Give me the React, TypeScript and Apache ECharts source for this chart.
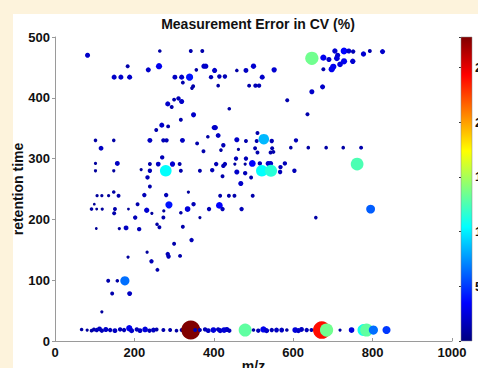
import React, { useEffect, useRef } from 'react';
import * as echarts from 'echarts';

const chartTitle = 'Measurement Error in CV (%)';
const xName = 'm/z';
const yName = 'retention time';
const xTicks = { min: 0, max: 1000, interval: 200 };
const yTicks = { min: 0, max: 500, interval: 100 };
const cvRange = { min: 0, max: 27.8, interval: 5 };
const jet = ['#000080', '#0000FF', '#0080FF', '#00FFFF', '#80FF80', '#FFFF00', '#FF8000', '#FF0000', '#800000'];

// [m/z, retention time, CV %]
const upperLeft: number[][] = [
  [82, 470, 2], [264, 477, 1], [342, 477, 1.2], [371, 477, 1.2], [183, 452, 1.2], [235, 446, 2], [262, 452, 3],
  [149, 434, 2], [166, 434, 2], [188, 434, 2], [302, 434, 1.8], [319, 434, 2], [339, 434, 4], [322, 425, 1.2],
  [356, 446, 1], [375, 452, 2], [380, 452, 2], [393, 434, 1.5], [348, 419, 1.2], [345, 416, 1], [284, 390, 2],
  [294, 385, 1.2], [300, 397, 1.2], [311, 399, 1.5], [319, 394, 2], [349, 372, 2], [317, 364, 1.2], [269, 355, 2],
  [285, 353, 1.2], [255, 347, 1.2], [401, 351, 2], [102, 330, 1], [148, 330, 1], [239, 330, 1.8], [273, 330, 1.5],
  [281, 330, 1.5], [321, 330, 1.8], [358, 325, 1.2], [385, 336, 1], [402, 445, 2], [414, 435, 1.5], [428, 435, 1.5],
  [411, 420, 1], [458, 445, 1], [481, 445, 1.8], [500, 452, 2.2], [522, 434, 2], [552, 446, 2.2], [489, 420, 1.2],
  [505, 420, 1.5], [514, 420, 1.5], [585, 396, 1.2], [439, 382, 1], [636, 373, 1.2], [404, 351, 2], [411, 338, 1.8],
  [458, 331, 2], [481, 329, 1.2], [510, 342, 1.2], [508, 329, 1.2], [607, 330, 1.5], [546, 329, 1.5], [550, 311, 1.2],
];

const upperRight: number[][] = [
  [647, 465, 13.5], [676, 466, 3], [690, 463, 2], [705, 477, 2.2], [712, 470, 2], [728, 477, 3.5], [740, 477, 2],
  [751, 476, 1.5], [728, 460, 3], [750, 460, 2.2], [701, 451, 3], [697, 447, 3], [676, 447, 1.2], [718, 455, 2.5],
  [710, 465, 2.5], [777, 472, 2.2], [793, 477, 1.2], [825, 476, 2], [647, 410, 2], [674, 418, 2],
  [594, 318, 1], [638, 318, 1], [683, 318, 1], [726, 318, 1], [771, 318, 1.2], [761, 291, 12.5],
];

const middle: number[][] = [
  [526, 332, 8.5], [116, 317, 1.8], [374, 312, 1.2], [270, 302, 1.5], [260, 291, 1.8], [296, 291, 2.2], [314, 291, 1.2],
  [102, 292, 0.8], [157, 292, 1.8], [239, 291, 1.2], [102, 280, 0.8], [148, 280, 0.8], [217, 282, 0.8], [239, 280, 1.5],
  [233, 269, 1.5], [317, 280, 1.2], [365, 280, 1.2], [396, 281, 1.5], [239, 254, 1.2], [424, 322, 1.5], [418, 314, 1],
  [462, 315, 0.8], [504, 317, 1.2], [510, 310, 1.2], [547, 317, 1.2], [543, 310, 1.2], [406, 291, 1.5], [428, 291, 1.5],
  [424, 288, 1.5], [453, 291, 0.8], [479, 291, 0.8], [456, 300, 1.5], [481, 300, 1.5], [497, 292, 3.5], [516, 292, 1.5],
  [537, 292, 2], [543, 292, 2], [579, 292, 1.5], [568, 286, 1.5], [567, 278, 1.5], [458, 278, 2], [479, 276, 1.5],
  [422, 271, 1.2], [494, 269, 1.2], [525, 276, 1.5], [603, 280, 1.5], [468, 259, 2], [279, 280, 10.5],
  [521, 280, 10.5], [544, 280, 11.5],
];

const lower: number[][] = [
  [106, 239, 0.8], [118, 239, 0.8], [135, 239, 0.8], [148, 245, 1], [160, 239, 1.2], [225, 240, 1.5], [280, 240, 1.5],
  [336, 245, 0.8], [92, 217, 1], [99, 225, 0.6], [105, 217, 0.6], [119, 217, 0.8], [151, 217, 1.2], [149, 210, 1.2],
  [185, 217, 0.6], [208, 225, 1.2], [231, 215, 2.2], [244, 210, 0.8], [274, 214, 0.8], [287, 224, 4], [273, 203, 1.2],
  [317, 211, 1], [334, 217, 2.5], [349, 225, 1.5], [365, 203, 0.8], [388, 217, 1.5], [104, 185, 0.6], [162, 185, 0.8],
  [179, 186, 1.8], [212, 184, 1.5], [202, 203, 1.5], [257, 192, 1], [263, 187, 1.2], [322, 188, 1.2], [300, 160, 1.2],
  [344, 166, 1.5], [416, 239, 1.2], [438, 239, 1.2], [452, 239, 1.2], [498, 239, 1.2], [414, 223, 3.5], [422, 217, 1.5],
  [470, 217, 1.5], [657, 203, 1], [795, 217, 6], [184, 138, 0.8], [232, 146, 0.8], [243, 131, 1.5], [284, 143, 1.5],
  [286, 139, 1.5], [315, 140, 1.2], [258, 117, 1.2], [134, 99, 1.2], [157, 99, 1], [176, 99, 6.5], [144, 78, 1.2],
  [188, 78, 1.8], [118, 48, 0.8],
];

const bottomRow: number[][] = [
  [67, 19, 1], [81, 18, 0.8], [92, 17, 1], [98, 19, 1.2], [105, 18, 1.5], [112, 20, 1.8], [118, 17, 1.5], [128, 19, 2],
  [139, 18, 1.5], [151, 17, 1.8], [164, 19, 1.5], [174, 18, 1.5], [187, 21, 3], [193, 17, 2], [206, 19, 1.5],
  [214, 17, 1.8], [227, 19, 2.5], [238, 17, 1.5], [248, 18, 1.8], [256, 19, 1.2], [273, 18, 1.2], [290, 18, 1.2],
  [306, 17, 1], [319, 18, 1.2], [331, 18, 1], [342, 18, 27.8], [353, 18, 1.2], [365, 18, 1.2], [378, 19, 1.5],
  [386, 17, 1.8], [399, 18, 2.5], [411, 19, 1.5], [416, 17, 2], [426, 18, 2.5], [433, 19, 2], [439, 17, 1.5],
  [479, 18, 13], [500, 18, 1], [512, 17, 1.5], [525, 19, 3], [533, 17, 2], [546, 18, 1.5], [558, 18, 1.8],
  [571, 18, 1.8], [584, 18, 1], [605, 18, 2.5], [613, 17, 2], [621, 19, 1.8], [634, 18, 1.5], [646, 18, 1.2],
  [659, 18, 1.5], [672, 18, 24], [684, 18, 13.5], [718, 18, 0.8], [747, 18, 2.5], [777, 18, 11], [785, 18, 13],
  [802, 18, 6.5], [835, 18, 5],
];

const FONT = 'Liberation Sans, Arial, Helvetica, sans-serif';

export default function App() {
  const ref = useRef<HTMLDivElement>(null);
  useEffect(() => {
    const chart = echarts.init(ref.current!, null, { renderer: 'svg' });
    const allPoints = [...upperLeft, ...upperRight, ...middle, ...lower, ...bottomRow];
    const labelStyle = { color: '#111', fontSize: 13, fontWeight: 'bold', fontFamily: FONT };
    const nameStyle = { color: '#111', fontSize: 14, fontWeight: 'bold', fontFamily: FONT };
    chart.setOption({
      animation: false,
      backgroundColor: 'transparent',
      title: {
        text: chartTitle,
        left: 253,
        top: 12,
        textAlign: 'center',
        textStyle: { ...nameStyle },
      },
      graphic: [
        { type: 'rect', z: -100, shape: { x: 13, y: 14, width: 465, height: 354 }, style: { fill: '#ffffff' } },
        {
          type: 'rect',
          z: 1,
          shape: { x: 461, y: 37, width: 11, height: 304 },
          style: {
            fill: new echarts.graphic.LinearGradient(0, 1, 0, 0, jet.map((c, i) => ({ offset: i / (jet.length - 1), color: c }))),
            stroke: '#888',
            lineWidth: 0.5,
          },
        },
      ],
      grid: [
        { left: 55, top: 37, width: 397, height: 304, containLabel: false, outerBoundsMode: 'none' },
        { left: 461, top: 37, width: 11, height: 304, containLabel: false, outerBoundsMode: 'none' },
      ],
      xAxis: [
        {
          gridIndex: 0,
          type: 'value',
          ...xTicks,
          name: xName,
          nameLocation: 'middle',
          nameGap: 18,
          nameMoveOverlap: false,
          nameTextStyle: nameStyle,
          axisLine: { show: true, lineStyle: { color: '#9a9a9a', width: 1 } },
          axisTick: { show: true, inside: true, length: 3, lineStyle: { color: '#9a9a9a' } },
          axisLabel: { ...labelStyle, margin: 5, formatter: (v: number) => String(v) },
          splitLine: { show: false },
        },
        { gridIndex: 1, type: 'value', min: 0, max: 1, show: false },
      ],
      yAxis: [
        {
          gridIndex: 0,
          type: 'value',
          ...yTicks,
          name: yName,
          nameLocation: 'middle',
          nameGap: 30,
          nameMoveOverlap: false,
          nameTextStyle: nameStyle,
          axisLine: { show: true, lineStyle: { color: '#9a9a9a', width: 1 } },
          axisTick: { show: true, length: 3, lineStyle: { color: '#9a9a9a' } },
          axisLabel: { ...labelStyle, margin: 5, formatter: (v: number) => String(v) },
          splitLine: { show: false },
        },
        {
          gridIndex: 1,
          type: 'value',
          position: 'right',
          ...cvRange,
          axisLine: { show: false },
          axisTick: { show: true, inside: true, length: 2, lineStyle: { color: '#333' } },
          axisLabel: {
            ...labelStyle,
            margin: 3,
            formatter: (v: number) => (v > 0 && v % 5 === 0 ? String(v) : ''),
          },
          splitLine: { show: false },
        },
      ],
      visualMap: {
        type: 'continuous',
        show: false,
        seriesIndex: 0,
        dimension: 2,
        min: cvRange.min,
        max: cvRange.max,
        inRange: { color: jet },
      },
      series: [
        {
          type: 'scatter',
          xAxisIndex: 0,
          yAxisIndex: 0,
          data: allPoints,
          symbol: 'circle',
          symbolSize: (v: number[]) => 3.6 * Math.sqrt(v[2]),
          itemStyle: { opacity: 1, borderWidth: 0 },
          emphasis: { disabled: true },
        },
      ],
    });
    return () => chart.dispose();
  }, []);
  return (
    <div style={{ position: 'fixed', left: 0, top: 0, width: 478, height: 368, background: '#FDF3DC', overflow: 'hidden' }}>
      <div ref={ref} style={{ width: 478, height: 368 }} />
    </div>
  );
}
